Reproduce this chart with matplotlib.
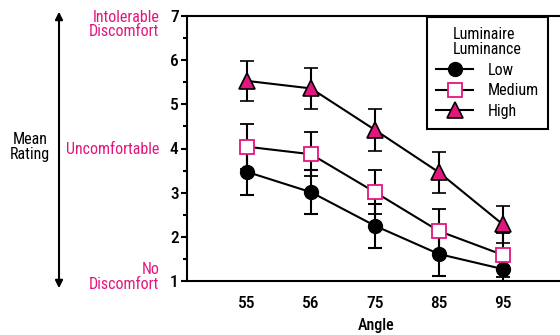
import matplotlib
matplotlib.use("Agg")
import matplotlib.pyplot as plt
from matplotlib.lines import Line2D
from matplotlib.patches import FancyArrowPatch

# condensed look: try narrow families first, then Roboto
plt.rcParams['font.family'] = ['Roboto Condensed', 'Liberation Sans Narrow', 'Roboto', 'DejaVu Sans']

MAGENTA = '#E2177E'

angles = ["55", "56", "75", "85", "95"]
low = [3.47, 3.01, 2.25, 1.61, 1.27]
low_err = [0.52, 0.50, 0.50, 0.50, 0.27]
medium = [4.04, 3.87, 3.01, 2.13, 1.59]
medium_err = [0.51, 0.50, 0.50, 0.50, 0.50]
high = [5.53, 5.36, 4.42, 3.46, 2.28]
high_err = [0.46, 0.47, 0.48, 0.47, 0.42]

y_labels = {7: "Intolerable\nDiscomfort", 4: "Uncomfortable", 1: "No\nDiscomfort"}
y_label_shift = {7: -6, 4: -1, 1: 3}

fig = plt.figure(figsize=(5.6, 3.35), dpi=100)
ax = fig.add_axes([187 / 560, 1 - 281 / 335, 1 - 187 / 560 + 0.01, (281 - 16) / 335])

x = list(range(len(angles)))
common = dict(color='black', linewidth=1.5, elinewidth=1.5, capsize=5, capthick=1.5, markersize=10)
ax.errorbar(x, low, yerr=low_err, marker='o', markerfacecolor='black',
            markeredgecolor='black', zorder=3, **common)
ax.errorbar(x, medium, yerr=medium_err, marker='s', markerfacecolor='white',
            markeredgecolor=MAGENTA, markeredgewidth=1.3, zorder=4, **common)
ax.errorbar(x, high, yerr=high_err, marker='^', markerfacecolor=MAGENTA,
            markeredgecolor='black', markeredgewidth=1.2, zorder=5,
            **{**common, 'markersize': 11})

ax.set_xlim(-0.94, 4.98)
ax.set_ylim(1, 7)
ax.set_xticks(x)
ax.set_xticklabels(angles, fontsize=12.5, fontweight='medium')
ax.set_yticks(range(1, 8))
ax.set_yticks([1.5 + i for i in range(6)], minor=True)
ax.tick_params(axis='x', length=0, pad=11)
ax.tick_params(axis='y', which='major', length=4, width=1.5, labelsize=12.5, pad=2)
for t in ax.get_yticklabels():
    t.set_fontweight('medium')
ax.tick_params(axis='y', which='minor', length=3, width=1.5)
ax.spines['right'].set_visible(False)
for s in ['left', 'top', 'bottom']:
    ax.spines[s].set_linewidth(1.5)

ax.set_xlabel("Angle", fontsize=11.5, labelpad=5, fontweight='medium')

# descriptive labels in magenta
for val, txt in y_labels.items():
    ax.annotate(txt, xy=(0, val), xycoords=('axes fraction', 'data'),
                xytext=(-20, y_label_shift[val]), textcoords='offset points',
                ha='right', va='center', color=MAGENTA, fontsize=11.5, linespacing=0.95)

# Mean Rating arrow
fig.patches.append(FancyArrowPatch(
    (59 / 560, 1 - 291 / 335), (59 / 560, 1 - 9 / 335), transform=fig.transFigure,
    arrowstyle='<|-|>', mutation_scale=11, color='black', linewidth=1.5))
fig.text(30 / 560, 1 - 147 / 335, "Mean\nRating", ha='center', va='center',
         fontsize=11.5, linespacing=1.0)

handles = [
    Line2D([], [], color='black', lw=1.5, marker='o', markersize=10,
           markerfacecolor='black', markeredgecolor='black'),
    Line2D([], [], color='black', lw=1.5, marker='s', markersize=10,
           markerfacecolor='white', markeredgecolor=MAGENTA, markeredgewidth=1.3),
    Line2D([], [], color='black', lw=1.5, marker='^', markersize=11,
           markerfacecolor=MAGENTA, markeredgecolor='black', markeredgewidth=1.2),
]
leg = ax.legend(handles, ["Low", "Medium", "High"], title="Luminaire\nLuminance",
                loc='upper right', bbox_to_anchor=(548 / 560, 1 - 17 / 335),
                bbox_transform=fig.transFigure, fontsize=11.5, title_fontsize=11.5,
                fancybox=False, framealpha=1, edgecolor='black', handlelength=2.3,
                borderpad=0.6, labelspacing=0.35, handletextpad=0.9, borderaxespad=0)
leg.get_frame().set_linewidth(1.5)
leg.get_title().set_linespacing(1.05)

plt.savefig("out.png", dpi=100)
plt.close()
